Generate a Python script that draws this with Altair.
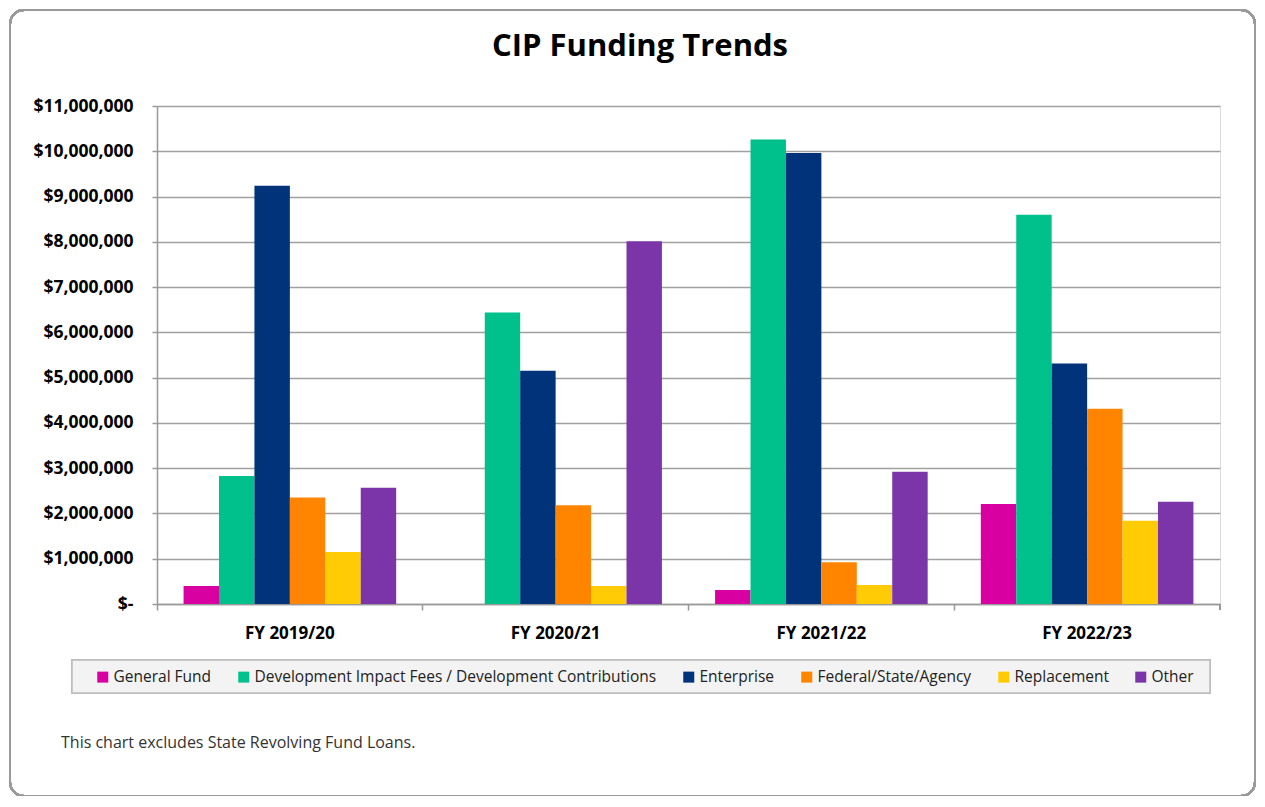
import altair as alt
import pandas as pd

years = ["FY 2019/20", "FY 2020/21", "FY 2021/22", "FY 2022/23"]
sources = [
    "General Fund",
    "Development Impact Fees / Development Contributions",
    "Enterprise",
    "Federal/State/Agency",
    "Replacement",
    "Other",
]
general_fund = [400000, 0, 310000, 2210000]
dev_impact = [2830000, 6440000, 10260000, 8600000]
enterprise = [9240000, 5150000, 9960000, 5310000]
federal = [2350000, 2180000, 920000, 4310000]
replacement = [1150000, 400000, 420000, 1840000]
other = [2570000, 8010000, 2920000, 2260000]
colors = ["#d800a0", "#00c08b", "#00337a", "#ff8500", "#ffcb05", "#7b35a8"]
y_ticks = [i * 1000000 for i in range(0, 12)]
title_text = "CIP Funding Trends"
note_text = "This chart excludes State Revolving Fund Loans."

series = [general_fund, dev_impact, enterprise, federal, replacement, other]
rows = []
for s, vals in zip(sources, series):
    for y, v in zip(years, vals):
        rows.append({"Year": y, "Source": s, "Amount": v})
df = pd.DataFrame(rows)

W, H = 1063, 498
FONT = "Open Sans"

bars = alt.Chart(df).mark_bar().encode(
    x=alt.X(
        "Year:N",
        sort=years,
        scale=alt.Scale(paddingInner=0, paddingOuter=0),
        axis=alt.Axis(
            title=None,
            bandPosition=0,
            labelAngle=0,
            labelFont=FONT,
            labelFontSize=17,
            labelFontWeight="bold",
            labelColor="#000000",
            labelPadding=15,
            tickSize=6,
            tickColor="#999999",
            tickWidth=1.5,
            domainColor="#999999",
            domainWidth=1.5,
            grid=False,
        ),
    ),
    xOffset=alt.XOffset(
        "Source:N",
        sort=sources,
        scale=alt.Scale(paddingInner=0, paddingOuter=0.75),
    ),
    y=alt.Y(
        "Amount:Q",
        scale=alt.Scale(domain=[0, 11000000], nice=False),
        axis=alt.Axis(
            title=None,
            values=y_ticks,
            labelExpr="datum.value == 0 ? '$-' : '$' + format(datum.value, ',.0f')",
            labelFont=FONT,
            labelFontSize=17.5,
            labelFontWeight="bold",
            labelColor="#000000",
            labelPadding=19,
            tickSize=5,
            tickColor="#999999",
            tickWidth=1.5,
            domainColor="#999999",
            domainWidth=1.5,
            gridColor="#a0a0a0",
            gridWidth=1.5,
        ),
    ),
    color=alt.Color(
        "Source:N",
        sort=sources,
        scale=alt.Scale(domain=sources, range=colors),
        legend=alt.Legend(
            title=None,
            orient="none",
            legendX=95 - 157,
            legendY=563,
            direction="horizontal",
            columns=6,
            symbolType="square",
            symbolSize=121,
            symbolStrokeWidth=0,
            symbolOpacity=1,
            labelFont=FONT,
            labelFontSize=15.5,
            labelColor="#222222",
            labelOffset=3,
            labelLimit=0,
            columnPadding=24,
        ),
    ),
)

# right-end tick on x axis
end_tick = alt.Chart(df).mark_rule(color="#999999", strokeWidth=1.5).encode(
    x=alt.value(W), y=alt.value(H), y2=alt.value(H + 6)
)

# legend frame
legend_box = alt.Chart(df).mark_rect(
    fill="#f3f3f3", stroke="#bdbdbd", strokeWidth=1.5
).encode(
    x=alt.value(72 - 157), x2=alt.value(1210 - 157),
    y=alt.value(660 - 106), y2=alt.value(693 - 106),
)

# outer rounded frame
frame = alt.Chart(df).mark_rect(
    fill="#ffffff", fillOpacity=0, stroke="#9a9a9a", strokeWidth=2, cornerRadius=14
).encode(
    x=alt.value(10 - 157), x2=alt.value(1255 - 157),
    y=alt.value(10 - 106), y2=alt.value(690),
)

title = alt.Chart(pd.DataFrame({"t": [title_text]})).mark_text(
    font=FONT, fontSize=31, fontWeight="bold", color="#000000",
    align="center", baseline="alphabetic"
).encode(
    text="t:N", x=alt.value(640 - 157), y=alt.value(56 - 106)
)

note = alt.Chart(pd.DataFrame({"t": [note_text]})).mark_text(
    font=FONT, fontSize=16, color="#333333", align="left", baseline="alphabetic"
).encode(
    text="t:N", x=alt.value(61 - 157), y=alt.value(748 - 106)
)

chart = alt.layer(frame, legend_box, bars, end_tick, title, note).properties(
    width=W,
    height=H,
    autosize=alt.AutoSizeParams(type="none"),
    padding={"left": 149, "top": 98, "right": 37, "bottom": 192},
).configure_view(stroke=None).configure(background="#ffffff")

chart.save("out.html", embed_options={"renderer": "svg", "actions": False})
